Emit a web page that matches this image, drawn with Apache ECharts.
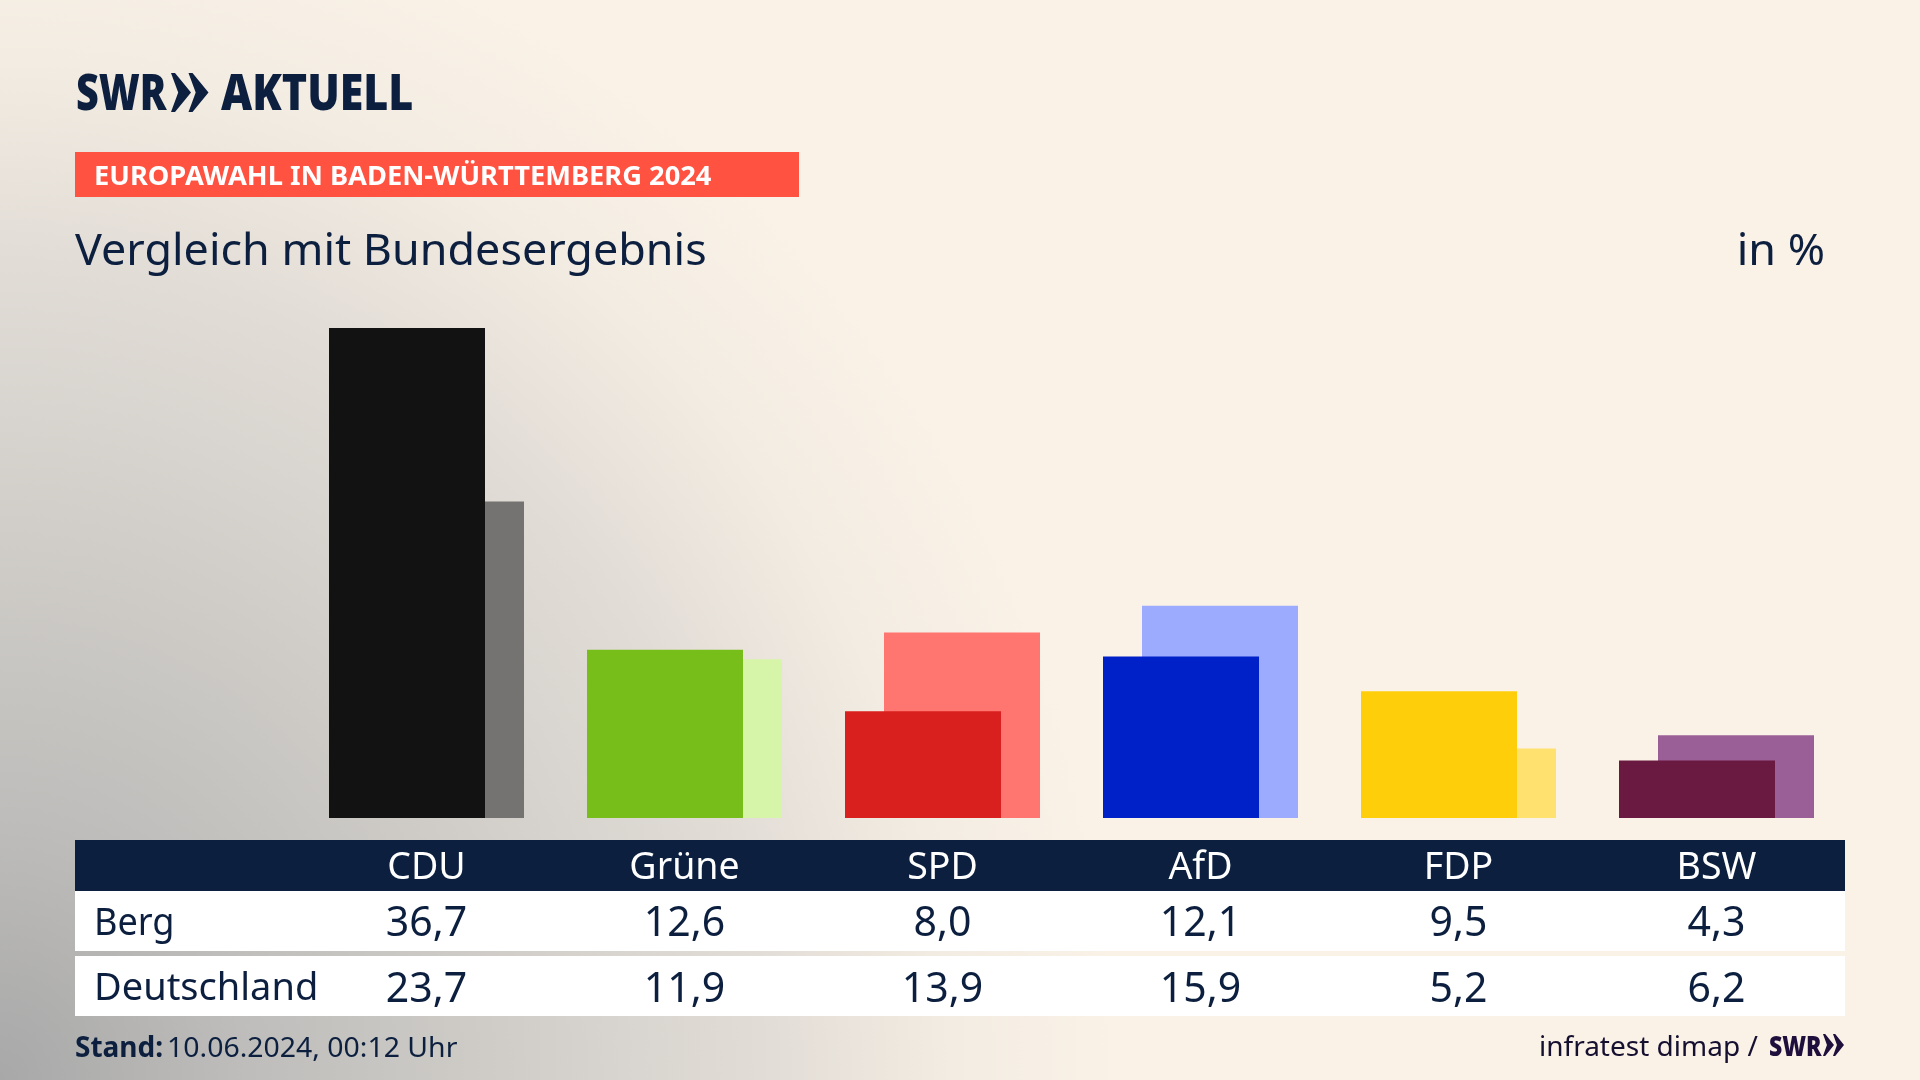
<!DOCTYPE html>
<html lang="de"><head><meta charset="utf-8">
<script src="https://cdn.jsdelivr.net/npm/echarts@6/dist/echarts.min.js"></script>
<style>
html,body{margin:0;padding:0;width:1920px;height:1080px;overflow:hidden;background:#faf2e7;}
body{background:radial-gradient(ellipse 1120px 1200px at 0 100%,#a8a8a8 0%,#bebdbb 22%,#d0cdc8 45%,#e1dcd6 68%,#f3ece2 85%,#faf2e7 100%),#faf2e7;}
#c{width:1920px;height:1080px;}
</style></head><body><div id="c"></div>
<script>
const categories=['CDU','Grüne','SPD','AfD','FDP','BSW'];
const berg=[36.7,12.6,8.0,12.1,9.5,4.3];
const deutschland=[23.7,11.9,13.9,15.9,5.2,6.2];
const strongColors=['#121212','#78be1a','#d9201e','#0021c8','#ffce0b','#6a1a40'];
const lightColors=['#747371','#d6f5a9','#ff7570','#9dabff','#ffe170','#9b5f98'];
const fmt=v=>v.toFixed(1).replace('.',',');
const navy='#0c1f3f', FONT='"Noto Sans"';
const chevron=(x,y,w,h,step,fill)=>[0,1].map(i=>{const X=x+i*step;return {type:'polygon',z:6,style:{fill},shape:{points:[
  [X,y],[X+w*0.2,y],[X+w,y+h/2],[X+w*0.2,y+h],[X,y+h],[X+w*0.36,y+h/2]]}};});
const txt=(x,base,text,size,fill,weight,scaleX,align)=>({type:'text',z:6,x,y:base-0.8*size,scaleX:scaleX||1,style:{text,fill,font:`${weight||400} ${size}px ${FONT}`,align:align||'left'}});
const rect=(x,y,w,h,fill)=>({type:'rect',z:1,shape:{x,y,width:w,height:h},style:{fill}});
const labelAxis=(data,offset,color,size)=>({type:'category',gridIndex:0,position:'bottom',offset,data,z:6,
  axisLine:{show:false},axisTick:{show:false},splitLine:{show:false},
  axisLabel:{show:true,interval:0,margin:0,color,fontFamily:FONT,fontSize:size,verticalAlign:'middle',align:'center'}});
const chart=echarts.init(document.getElementById('c'),null,{renderer:'canvas'});
chart.setOption({
  animation:false,
  backgroundColor:'transparent',
  grid:{left:297.5,top:284,width:1548,height:534,containLabel:false},
  xAxis:[labelAxis(categories,50,'#ffffff',37.5),labelAxis(berg.map(fmt),106.5,navy,41),labelAxis(deutschland.map(fmt),172,navy,41)],
  yAxis:{type:'value',min:0,max:40,show:false},
  series:[
    {name:'Berg',type:'bar',xAxisIndex:0,z:4,barWidth:156,barGap:'-75%',data:berg.map((v,i)=>({value:v,itemStyle:{color:strongColors[i]}}))},
    {name:'Deutschland',type:'bar',xAxisIndex:0,z:3,barWidth:156,barGap:'-75%',data:deutschland.map((v,i)=>({value:v,itemStyle:{color:lightColors[i]}}))}
  ],
  graphic:{elements:[
    rect(75,152,724,45,'#ff5240'),
    rect(75,840,1770,51,navy),
    rect(75,891,1770,60,'#ffffff'),
    rect(75,956,1770,60,'#ffffff'),
    txt(76,111,'SWR',50,navy,900,0.79),
    ...chevron(171,73,20,39,17.5,navy),
    txt(221,111,'AKTUELL',50,navy,900,0.86),
    txt(94,185,'EUROPAWAHL IN BADEN-WÜRTTEMBERG 2024',27,'#ffffff',700,1.01),
    txt(75,265.5,'Vergleich mit Bundesergebnis',44,navy,400,1.02),
    txt(1825,265.5,'in %',44,navy,400,1.02,'right'),
    txt(94,936,'Berg',38,navy,400,0.95),
    txt(94,1001,'Deutschland',38,navy,400,1.0),
    txt(75,1057,'Stand:',28,navy,700,1.0),
    txt(167,1057,'10.06.2024, 00:12 Uhr',28,navy,400,1.015),
    txt(1539,1056,'infratest dimap /',28,'#150f30',400,1.0),
    txt(1769,1056,'SWR',28,'#1e0f3c',900,0.82),
    ...chevron(1823,1034,11,22,10,'#1e0f3c')
  ]}
});
</script></body></html>
